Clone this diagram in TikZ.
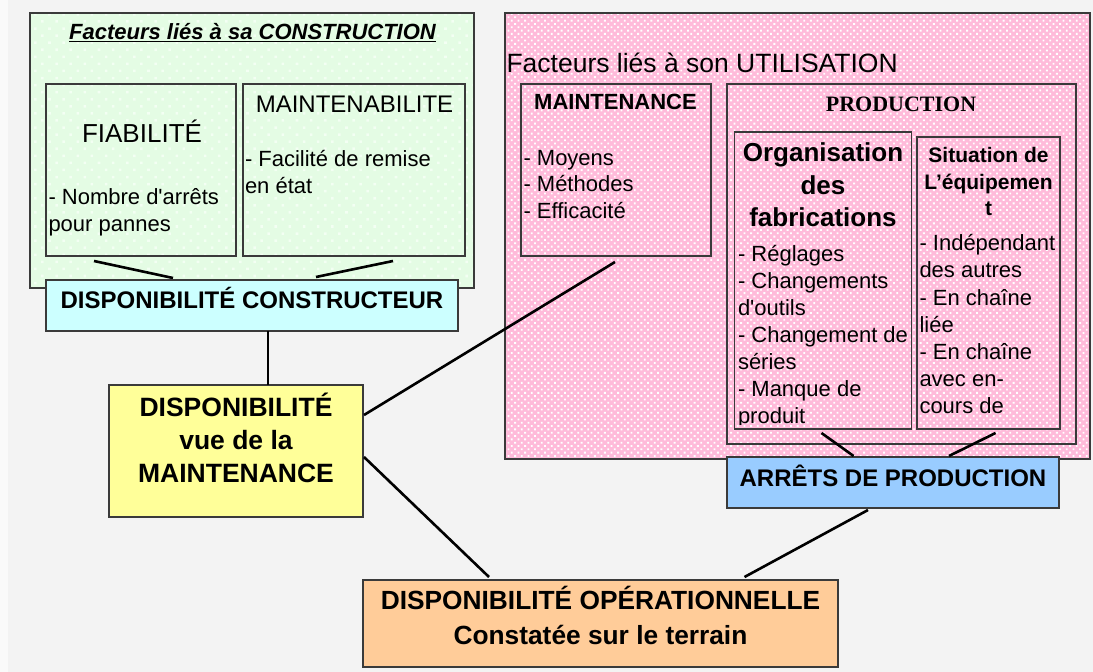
\documentclass[tikz,border=0pt]{standalone}
\usepackage{fontspec}
\setmainfont{Liberation Sans}[Ligatures=TeXOff]
\newfontfamily\serifbold{Liberation Serif}
\usetikzlibrary{calc,patterns.meta}
\definecolor{bgc}{HTML}{F3F3F3}
\definecolor{edge}{HTML}{3A3A3A}
\definecolor{greenc}{HTML}{E4FCE4}
\definecolor{greendot}{HTML}{F3FFF3}
\definecolor{pinkc}{HTML}{FFBBDA}
\definecolor{cyanc}{HTML}{CCFFFF}
\definecolor{bluec}{HTML}{99CCFF}
\definecolor{yellowc}{HTML}{FFFF99}
\definecolor{orangec}{HTML}{FFCC99}
\newcommand\myfs[2]{\fontsize{#1}{#2}\selectfont}
\begin{document}
\begin{tikzpicture}[x=1pt,y=-1pt,
  box/.style={draw=edge, line width=1.6pt, inner sep=0pt, outer sep=0pt, anchor=north west},
  greenbox/.style={box, preaction={fill=greenc}, preaction={pattern={Dots[distance=10pt,angle=45,radius=1.8pt]}, pattern color=greendot}},
  pinkbox/.style={box, preaction={fill=pinkc}, preaction={pattern={Dots[distance=4.7pt,angle=45,radius=1.3pt]}, pattern color=white}},
  txt/.style={inner sep=0pt, outer sep=0pt},
  conn/.style={line width=2.6pt, black}
]
\useasboundingbox (0,0) rectangle (1093,672);
\fill[bgc] (0,0) rectangle (1093,672);
\fill[white!60!bgc] (0,0) rectangle (8,672);

% ---------- construction (green) ----------
\node[greenbox, minimum width=444pt, minimum height=275pt] (green) at (30,13) {};
\node[txt, anchor=base, font={\myfs{22}{26}\bfseries\itshape}] (gtitle) at (252.5,39.5) {\underline{Facteurs liés à sa CONSTRUCTION}};
\node[box, minimum width=190pt, minimum height=172pt] (fia) at (46,84) {};
\node[box, minimum width=222pt, minimum height=172pt] (mtb) at (243,84) {};
\node[txt, anchor=base, font={\myfs{26}{30}}] (fiat) at (142,142) {FIABILITÉ};
\node[txt, anchor=north west, align=left, font={\myfs{22}{26.7}}] (fial) at (48.5,186.3) {\strut- Nombre d'arrêts\\\strut pour pannes};
\node[txt, anchor=base, font={\myfs{24}{28}}] (mtbt) at (354.5,112) {MAINTENABILITE};
\node[txt, anchor=north west, align=left, font={\myfs{22}{26.3}}] (mtbl) at (245,148.3) {\strut- Facilité de remise\\\strut en état};

\draw[conn] ($(fia.south west)+(48,5)$) -- ($(fia.south west)+(127,22)$) coordinate (c1);
\draw[conn] ($(mtb.south west)+(150,5)$) -- ($(mtb.south west)+(73,21)$) coordinate (c2);

\node[box, fill=cyanc, minimum width=412pt, minimum height=51pt] (dc) at (46,280) {};
\node[txt, anchor=base, font={\myfs{24}{28}\bfseries}] (dct) at (252,308.5) {DISPONIBILITÉ CONSTRUCTEUR};

% ---------- utilisation (pink) ----------
\node[pinkbox, minimum width=585pt, minimum height=446pt] (pink) at (505,13) {};
\node[txt, anchor=base west, font={\myfs{26.5}{30}}] (ptitle) at (506.5,72) {Facteurs liés à son UTILISATION};

\node[box, minimum width=190pt, minimum height=172pt] (mnt) at (521,84) {};
\node[txt, anchor=base, font={\myfs{22}{26}\bfseries}] (mntt) at (615.5,109.3) {MAINTENANCE};
\node[txt, anchor=north west, align=left, font={\myfs{22}{26.5}}] (mntl) at (523.5,146.45) {\strut- Moyens\\\strut- Méthodes\\\strut- Efficacité};

\node[box, minimum width=349pt, minimum height=360pt] (prod) at (727,84) {};
\node[txt, anchor=base, font={\myfs{22}{26}\serifbold\bfseries}] (prodt) at (901,111) {PRODUCTION};

\node[box, minimum width=177pt, minimum height=297pt] (orgf) at (734.5,132) {};
\node[txt, anchor=north, align=center, font={\myfs{26}{32.5}\bfseries}] (orgft) at (823,138.95) {\strut Organisation\\\strut des\\\strut fabrications};
\begin{scope}
\clip (736,133) rectangle (910,424.5);
\node[txt, anchor=north west, align=left, font={\myfs{22}{26.9}}] (orgfl) at (738,242.9) {\strut- Réglages\\\strut- Changements\\\strut d'outils\\\strut- Changement de\\\strut séries\\\strut- Manque de\\\strut produit};
\end{scope}

\node[box, minimum width=143pt, minimum height=292pt] (sit) at (917,137) {};
\node[txt, anchor=north, align=center, font={\myfs{21}{26.5}\bfseries}] (sitt) at (988.5,144.15) {\strut Situation de\\\strut L’équipemen\\\strut t};
\node[txt, anchor=north west, align=left, font={\myfs{22}{27.2}}] (sitl) at (919.5,231.66) {\strut- Indépendant\\\strut des autres\\\strut- En chaîne\\\strut liée\\\strut- En chaîne\\\strut avec en-\\\strut cours de};

\node[box, fill=bluec, minimum width=332pt, minimum height=51pt] (arr) at (727,457) {};
\node[txt, anchor=base, font={\myfs{24}{28}\bfseries}] (arrt) at (893,486) {ARRÊTS DE PRODUCTION};

% ---------- bottom ----------
\node[box, fill=yellowc, minimum width=254pt, minimum height=132pt] (yel) at (109,385) {};
\node[txt, anchor=north, align=center, font={\myfs{26.5}{33}\bfseries}] (yelt) at (236,392.9) {\strut DISPONIBILITÉ\\\strut vue de la\\\strut MAINTENANCE};

\node[box, fill=orangec, minimum width=475pt, minimum height=87pt] (opr) at (363,580) {};
\node[txt, anchor=north, align=center, font={\myfs{26.3}{34.5}\bfseries}] (oprt) at (600.5,585.35) {\strut DISPONIBILITÉ OPÉRATIONNELLE\\\strut Constatée sur le terrain};

% ---------- connectors ----------
\draw[conn] ($(dc.south west)+(222,0)$) -- ($(yel.north west)+(159,0)$);
\draw[conn] ($(mnt.south west)+(94,6)$) -- ($(yel.north east)+(1,30)$);
\draw[conn] ($(yel.north east)+(1,72)$) -- ($(opr.north west)+(126,-3)$);
\draw[conn] ($(arr.south west)+(141,2)$) -- ($(opr.north west)+(381.5,-3)$);
\draw[conn] ($(orgf.south west)+(87,4)$) -- ($(arr.north west)+(126.6,-1)$);
\draw[conn] ($(sit.south west)+(78.5,4)$) -- ($(arr.north west)+(222,-1)$);
\end{tikzpicture}
\end{document}
